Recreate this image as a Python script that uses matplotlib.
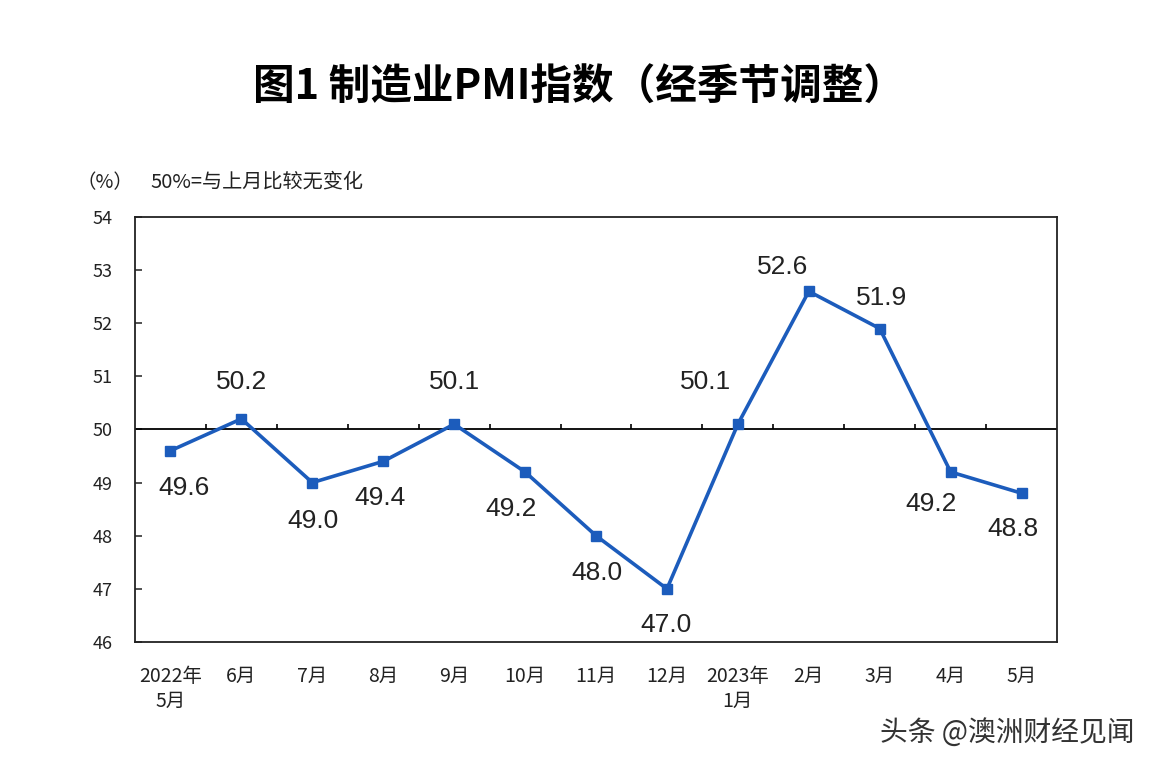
import matplotlib
matplotlib.use("Agg")
import matplotlib.pyplot as plt

# ── Data ───────────────────────────────────────────────────────────────────────
months = ["2022年\n5月", "6月", "7月", "8月", "9月", "10月", "11月", "12月",
          "2023年\n1月", "2月", "3月", "4月", "5月"]
pmi = [49.6, 50.2, 49.0, 49.4, 50.1, 49.2, 48.0, 47.0, 50.1, 52.6, 51.9, 49.2, 48.8]
yticks = [46, 47, 48, 49, 50, 51, 52, 53, 54]

# label offsets in pixels (dx, dy) relative to each point
offs = [(14, -37), (0, 37), (1, -38), (-3, -37), (0, 42), (-14, -37), (1, -37),
        (-1, -36), (-32, 42), (-26, 24), (2, 31), (-20, -32), (-9, -36)]

BLUE = "#1c5cbc"
CJK = ["Noto Sans CJK SC", "DejaVu Sans"]
NUM = ["Liberation Sans", "DejaVu Sans"]

plt.rcParams["font.family"] = CJK

fig = plt.figure(figsize=(11.58, 7.68), dpi=100, facecolor="white")
ax = fig.add_axes([0.1166, 0.1641, 0.7962, 0.5534])

x = list(range(len(pmi)))
ax.set_xlim(-0.5, len(pmi) - 0.5)
ax.set_ylim(46, 54)

# 50 reference line with small upward ticks at category boundaries
ax.axhline(50, color="black", lw=1.3, zorder=2)
bounds = [i + 0.5 for i in range(len(pmi) - 1)]
ax.vlines(bounds, 50, 50.11, color="black", lw=1.2, zorder=2)

ax.plot(x, pmi, color=BLUE, lw=2.6, marker="s", ms=7, mfc=BLUE, mec=BLUE, zorder=3)

for xi, v, (dx, dy) in zip(x, pmi, offs):
    ax.annotate(f"{v:.1f}", (xi, v), xytext=(dx, dy), textcoords="offset pixels",
                ha="center", va="center", fontsize=19, family=NUM, color="#222222")

ax.set_yticks(yticks)
ax.set_yticklabels([str(t) for t in yticks], fontsize=13)
ax.tick_params(axis="y", direction="in", length=5, width=1.1, pad=16, colors="#222222")
ax.set_xticks(x)
ax.set_xticklabels(months, fontsize=14, linespacing=1.25, va="top")
ax.tick_params(axis="x", length=0, pad=17, colors="#222222")

for s in ax.spines.values():
    s.set_linewidth(1.3)
    s.set_color("#222222")

fig.text(0.5, 0.886, "图1 制造业PMI指数（经季节调整）", ha="center", va="center",
         fontsize=30, fontweight="bold", color="black")
fig.text(0.091, 0.762, "（%）", ha="center", va="center", fontsize=14, color="#222222")
fig.text(0.130, 0.762, "50%=与上月比较无变化", ha="left", va="center", fontsize=14.5,
         color="#222222")
fig.text(0.87, 0.046, "头条 @澳洲财经见闻", ha="center", va="center", fontsize=20,
         color="#333333")

fig.savefig("out.png", dpi=100, facecolor="white")
